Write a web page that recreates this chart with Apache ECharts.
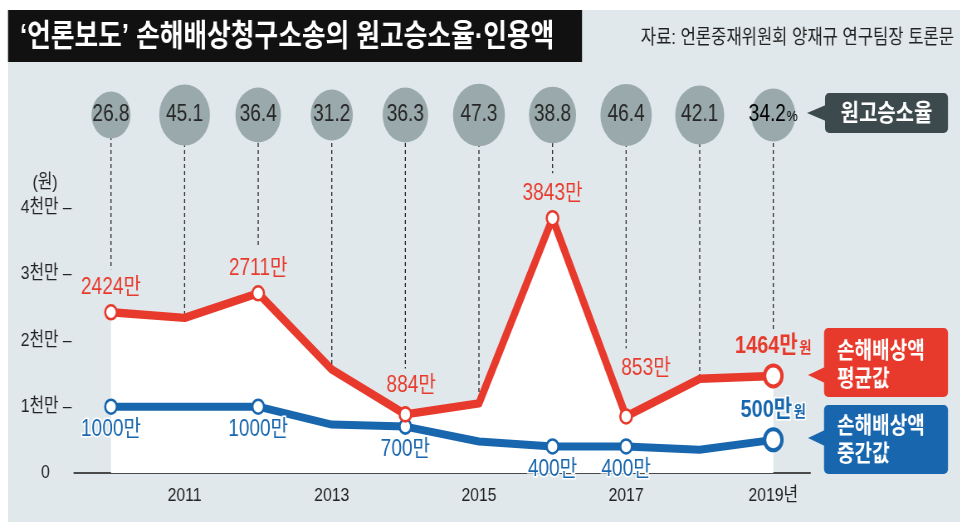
<!DOCTYPE html>
<html>
<head>
<meta charset="utf-8">
<script src="https://cdn.jsdelivr.net/npm/echarts@6/dist/echarts.min.js"></script>
<style>
html, body { margin: 0; padding: 0; background: #ffffff; overflow: hidden; }
#wrap { position: relative; width: 970px; height: 532px; overflow: hidden; }
#bg { position: absolute; left: 8px; top: 10px; width: 952px; height: 512px; background: #e0e8eb; }
#chart { position: absolute; left: 0; top: 0; width: 1169px; height: 532px; transform: scaleX(0.83); transform-origin: 0 0; }
</style>
</head>
<body>
<div id="wrap"><div id="bg"></div><div id="chart"></div></div>
<script>
// ---- data ----
const years = ['2010', '2011', '2012', '2013', '2014', '2015', '2016', '2017', '2018', '2019'];
const winRate = [26.8, 45.1, 36.4, 31.2, 36.3, 47.3, 38.8, 46.4, 42.1, 34.2];          // 원고승소율 (%)
const meanAmt = [2424, 2340, 2711, 1560, 884, 1050, 3843, 853, 1420, 1464];             // 손해배상액 평균값 (만원)
const medianAmt = [1000, 1000, 1000, 730, 700, 475, 400, 400, 350, 500];                // 손해배상액 중간값 (만원)
const yTicks = [0, 1000, 2000, 3000, 4000];
const yTickLabels = ['0', '1천만', '2천만', '3천만', '4천만'];
const labeledIdx = [0, 2, 4, 6, 7, 9];

// ---- layout / style ----
const S = 0.83;
const W = 970 / S;
const X = x => x / S;
const RED = '#e83a2c';
const BLUE = '#1766ae';
const DARK = '#3c4a4d';
const CIRCLE = '#9aa9ab';
const FONT = "'Liberation Sans', 'Noto Sans CJK KR', sans-serif";
const GRID_LEFT = X(74.2);
const GRID_RIGHT = W - X(809.8);
const dashGap = [43, 0, 48, 0, 46, 0, 45, 68, 0, 47];
const redOffset = { 4: [7, -4], 7: [24, -23] };

const chart = echarts.init(document.getElementById('chart'), null, { renderer: 'canvas' });

function redItem(v, i) {
  if (labeledIdx.indexOf(i) < 0) return { value: v, symbolSize: 0, label: { show: false } };
  const last = i === years.length - 1;
  return {
    value: v,
    symbolSize: last ? 21 : 14,
    itemStyle: { color: '#fff', borderColor: RED, borderWidth: last ? 4 : 2.6 },
    label: {
      show: true, position: 'top', distance: 5,
      offset: redOffset[i] || [0, 0],
      formatter: last ? '{a|' + v + '만}{u|원}' : v + '만'
    }
  };
}
function blueItem(v, i) {
  if (labeledIdx.indexOf(i) < 0) return { value: v, symbolSize: 0, label: { show: false } };
  const last = i === years.length - 1;
  return {
    value: v,
    symbolSize: last ? 21 : 14,
    itemStyle: { color: '#fff', borderColor: BLUE, borderWidth: last ? 4 : 2.6 },
    label: last
      ? { show: true, position: 'top', distance: 5, formatter: '{a|' + v + '만}{u|원}' }
      : { show: true, position: 'bottom', distance: 3, formatter: v + '만' }
  };
}

const option = {
  animation: false,
  backgroundColor: 'transparent',
  textStyle: { fontFamily: FONT },
  grid: [
    { left: GRID_LEFT, right: GRID_RIGHT, top: 115, bottom: 59 },
    { left: GRID_LEFT, right: GRID_RIGHT, top: 90, height: 50 }
  ],
  xAxis: [
    {
      type: 'category', gridIndex: 0, data: years, boundaryGap: true,
      axisLine: { lineStyle: { color: '#4a4a4a', width: 2 } },
      axisTick: { alignWithLabel: true, length: 8, lineStyle: { color: '#4a4a4a', width: 1.6 } },
      axisLabel: {
        interval: 0, margin: 13, fontSize: 19, color: '#222', fontFamily: FONT,
        formatter: (v, i) => (i % 2 === 1 ? (i === years.length - 1 ? v + '년' : v) : '')
      },
      splitLine: { show: false }
    },
    { type: 'category', gridIndex: 1, data: years, boundaryGap: true, show: false }
  ],
  yAxis: [
    {
      type: 'value', gridIndex: 0, min: 0, max: 5400, interval: 1000,
      axisLine: { show: false }, axisTick: { show: false }, splitLine: { show: false },
      axisLabel: {
        margin: 3, fontSize: 19, color: '#222', fontFamily: FONT,
        formatter: v => {
          const k = yTicks.indexOf(v);
          if (k < 0) return '';
          return k === 0 ? yTickLabels[k] + '     ' : yTickLabels[k] + ' –';
        }
      }
    },
    { type: 'value', gridIndex: 1, min: -1, max: 1, show: false }
  ],
  series: [
    {
      type: 'line', xAxisIndex: 0, yAxisIndex: 0, data: meanAmt, symbol: 'none',
      lineStyle: { width: 0, opacity: 0 }, areaStyle: { color: '#ffffff', opacity: 1 },
      z: 1, silent: true
    },
    {
      type: 'custom', xAxisIndex: 0, yAxisIndex: 0, z: 2, silent: true,
      data: meanAmt.map((v, i) => [i, v]),
      renderItem: (params, api) => {
        const i = api.value(0);
        const p = api.coord([i, api.value(1)]);
        const top = params.coordSys.y;
        return {
          type: 'line',
          shape: { x1: p[0], y1: top, x2: p[0], y2: p[1] - dashGap[i] },
          style: { stroke: '#2a2a2a', lineWidth: 1.3, lineDash: [4, 3] }
        };
      }
    },
    {
      type: 'line', xAxisIndex: 0, yAxisIndex: 0, z: 3, name: '중간값',
      data: medianAmt.map(blueItem), symbol: 'circle', showAllSymbol: true,
      lineStyle: { color: BLUE, width: 8, join: 'round' }, itemStyle: { color: BLUE },
      label: {
        color: BLUE, fontSize: 23, fontFamily: FONT, textBorderColor: '#fff', textBorderWidth: 3,
        rich: {
          a: { fontSize: 24, fontWeight: 'bold', color: BLUE, fontFamily: FONT },
          u: { fontSize: 16, fontWeight: 'bold', color: BLUE, fontFamily: FONT, padding: [4, 0, 0, 2] }
        }
      }
    },
    {
      type: 'line', xAxisIndex: 0, yAxisIndex: 0, z: 4, name: '평균값',
      data: meanAmt.map(redItem), symbol: 'circle', showAllSymbol: true,
      lineStyle: { color: RED, width: 8.5, join: 'round' }, itemStyle: { color: RED },
      label: {
        color: RED, fontSize: 23, fontFamily: FONT,
        rich: {
          a: { fontSize: 24, fontWeight: 'bold', color: RED, fontFamily: FONT },
          u: { fontSize: 16, fontWeight: 'bold', color: RED, fontFamily: FONT, padding: [4, 0, 0, 2] }
        }
      }
    },
    {
      type: 'scatter', xAxisIndex: 1, yAxisIndex: 1, z: 10, silent: true,
      data: winRate.map((v, i) => [years[i], 0, v]),
      symbolSize: d => 9.1 * Math.sqrt(d[2]),
      itemStyle: { color: CIRCLE, opacity: 1 },
      label: {
        show: true, position: 'inside', fontSize: 23, color: '#262626', fontFamily: FONT,
        formatter: p => (p.dataIndex === winRate.length - 1 ? '{b|' + p.value[2] + '}{p|%}' : String(p.value[2])),
        rich: {
          b: { fontSize: 23, color: '#000', fontFamily: FONT },
          p: { fontSize: 15, color: '#000', fontFamily: FONT, padding: [3, 0, 0, 1] }
        }
      }
    }
  ]
};
chart.setOption(option);

const y4 = chart.convertToPixel({ yAxisIndex: 0 }, 4000);

function calloutBox(id, x1, x2, y1, y2, tipX, tipY, color) {
  return [
    { id: id + 'r', type: 'rect', shape: { x: X(x1), y: y1, width: X(x2) - X(x1), height: y2 - y1, r: 5 }, style: { fill: color }, z: 50 },
    { id: id + 'p', type: 'polygon', shape: { points: [[X(tipX), tipY], [X(x1) + 1, tipY - 8], [X(x1) + 1, tipY + 8]] }, style: { fill: color }, z: 50 }
  ];
}

chart.setOption({
  graphic: [
    { id: 'tbox', type: 'rect', shape: { x: X(8), y: 10, width: X(582) - X(8), height: 52 }, style: { fill: '#111' }, z: 50 },
    { id: 'ttext', type: 'text', x: X(20), y: 37, z: 51,
      style: { text: '‘언론보도’ 손해배상청구소송의 원고승소율·인용액', fill: '#fff', fontSize: 31, fontWeight: 'bold', fontFamily: FONT, verticalAlign: 'middle', align: 'left' } },
    { id: 'src', type: 'text', x: X(954), y: 38, z: 51,
      style: { text: '자료: 언론중재위원회 양재규 연구팀장 토론문', fill: '#222', fontSize: 20, fontFamily: FONT, verticalAlign: 'middle', align: 'right' } },
    ...calloutBox('win', 825, 948, 93, 133, 807, 113, DARK),
    { id: 'wint', type: 'text', x: X(886.5), y: 114, z: 51,
      style: { text: '원고승소율', fill: '#fff', fontSize: 24, fontWeight: 'bold', fontFamily: FONT, verticalAlign: 'middle', align: 'center' } },
    ...calloutBox('mean', 824, 948, 328, 397, 808, 375, RED),
    { id: 'meant', type: 'text', x: X(837), y: 366, z: 51,
      style: { text: '손해배상액\n평균값', fill: '#fff', fontSize: 23, fontWeight: 'bold', lineHeight: 28, fontFamily: FONT, verticalAlign: 'middle', align: 'left' } },
    ...calloutBox('med', 824, 948, 405, 474, 808, 438, BLUE),
    { id: 'medt', type: 'text', x: X(837), y: 441, z: 51,
      style: { text: '손해배상액\n중간값', fill: '#fff', fontSize: 23, fontWeight: 'bold', lineHeight: 28, fontFamily: FONT, verticalAlign: 'middle', align: 'left' } },
    { id: 'unit', type: 'text', x: X(45), y: y4 - 25, z: 51,
      style: { text: '(원)', fill: '#222', fontSize: 19, fontFamily: FONT, verticalAlign: 'middle', align: 'center' } }
  ]
});
</script>
</body>
</html>
